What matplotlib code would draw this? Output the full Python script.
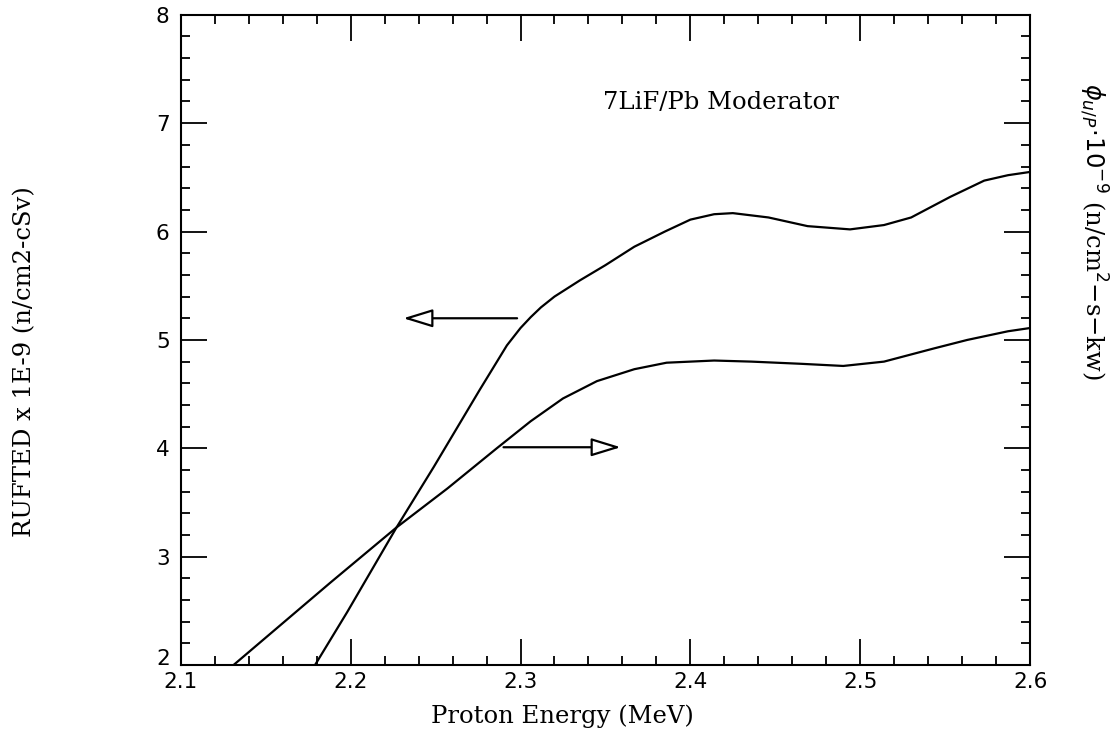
import matplotlib
matplotlib.use("Agg")
import matplotlib.pyplot as plt
from matplotlib.ticker import MultipleLocator
from matplotlib.transforms import ScaledTranslation

# Data
energy_a = [2.179, 2.198, 2.227, 2.249, 2.276, 2.292, 2.300, 2.306, 2.312, 2.320,
            2.335, 2.350, 2.367, 2.385, 2.400, 2.414, 2.425, 2.446, 2.469, 2.494,
            2.514, 2.530, 2.553, 2.573, 2.587, 2.600]
rufted = [2.00, 2.49, 3.27, 3.83, 4.54, 4.95, 5.11, 5.21, 5.30, 5.40,
          5.55, 5.69, 5.86, 6.00, 6.11, 6.16, 6.17, 6.13, 6.05, 6.02,
          6.06, 6.13, 6.32, 6.47, 6.52, 6.55]

energy_b = [2.131, 2.158, 2.188, 2.227, 2.257, 2.286, 2.306, 2.325, 2.345, 2.367,
            2.386, 2.414, 2.436, 2.465, 2.490, 2.514, 2.543, 2.563, 2.587, 2.600]
phi = [2.00, 2.36, 2.76, 3.27, 3.63, 4.00, 4.25, 4.46, 4.62, 4.73,
       4.79, 4.81, 4.80, 4.78, 4.76, 4.80, 4.92, 5.00, 5.08, 5.11]

x_ticks = [2.1, 2.2, 2.3, 2.4, 2.5, 2.6]
x_tick_labels = ["2.1", "2.2", "2.3", "2.4", "2.5", "2.6"]
y_ticks = [2, 3, 4, 5, 6, 7, 8]
y_tick_labels = ["2", "3", "4", "5", "6", "7", "8"]

fig = plt.figure(figsize=(11.16, 7.39), dpi=100)
ax = fig.add_axes([0.162, 0.100, 0.761, 0.880])

ax.plot(energy_a, rufted, color="black", lw=1.6)
ax.plot(energy_b, phi, color="black", lw=1.6)

ax.set_xlim(2.1, 2.6)
ax.set_ylim(2, 8)
ax.set_xticks(x_ticks)
ax.set_xticklabels(x_tick_labels)
ax.set_yticks(y_ticks)
ax.set_yticklabels(y_tick_labels)
ax.xaxis.set_minor_locator(MultipleLocator(0.02))
ax.yaxis.set_minor_locator(MultipleLocator(0.2))
ax.tick_params(which="both", direction="in", top=True, right=True, width=1.3, colors="black")
ax.tick_params(which="major", length=19, labelsize=15.5)
ax.tick_params(axis="y", which="major", pad=8)
ax.tick_params(axis="x", which="major", pad=5)
ax.tick_params(which="minor", length=6.5)
for s in ax.spines.values():
    s.set_linewidth(1.5)

# lift the "2" label slightly so it sits just above "2.1" as in the reference
lbl = ax.get_yticklabels()[0]
lbl.set_transform(lbl.get_transform() + ScaledTranslation(0, 6 / 72, fig.dpi_scale_trans))

serif = "DejaVu Serif"
fig.text(0.504, 1 - 716 / 739, "Proton Energy (MeV)", family=serif, fontsize=17.5,
         ha="center", va="center")
fig.text(0.0225, 1 - 362 / 739, "RUFTED x 1E-9 (n/cm2-cSv)", family=serif, fontsize=17.5,
         rotation=90, ha="center", va="center")
fig.text(1093 / 1116, 1 - 231 / 739, r"$\phi_{u/P}\!\cdot\!10^{-9}$ (n/cm$^{2}$$-$s$-$kw)",
         family=serif, fontsize=17.5, rotation=-90, ha="center", va="center")

ax.text(2.418, 7.19, "7LiF/Pb Moderator", family=serif, fontsize=17.5, ha="center", va="center")

ap = dict(arrowstyle="-|>,head_length=1.3,head_width=0.4", fc="white", ec="black", lw=1.6,
          mutation_scale=14, shrinkA=0, shrinkB=0)
ax.annotate("", xy=(2.231, 5.20), xytext=(2.298, 5.20), arrowprops=ap)
ax.annotate("", xy=(2.359, 4.01), xytext=(2.290, 4.01), arrowprops=ap)

fig.savefig("out.png", dpi=100)
